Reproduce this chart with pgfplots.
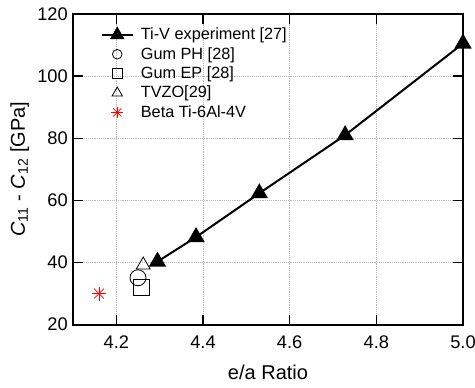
\documentclass[border=0pt]{standalone}
\usepackage{fontspec}
\setmainfont{Liberation Sans}
\usepackage{pgfplots}
\pgfplotsset{compat=1.18}
\pgfplotsset{
  legline/.style={legend image code/.code={\path (0cm,0cm) (0.82cm,0cm); \draw[mark repeat=2,mark phase=2,##1] plot coordinates {(0cm,0cm) (0.41cm,0cm) (0.82cm,0cm)};}},
  legmark/.style={legend image code/.code={\path (0cm,0cm) (0.82cm,0cm); \draw[##1] plot coordinates {(0.41cm,0cm)};}},
  legstar/.style={legend image code/.code={\path (0cm,0cm) (0.82cm,0cm); \draw[##1, mark=+] plot coordinates {(0.41cm,0cm)}; \draw[##1, mark=x] plot coordinates {(0.41cm,0cm)};}},
}
\begin{document}
\begin{tikzpicture}
\useasboundingbox (-54.75pt,-47.25pt) rectangle (301.5pt,243.5pt);
\begin{axis}[
  at={(0,0)}, anchor=south west,
  scale only axis,
  width=292.5pt, height=233pt,
  xmin=4.1, xmax=5.0, ymin=20, ymax=120,
  xtick={4.2,4.4,4.6,4.8,5.0},
  ytick={20,40,60,80,100,120},
  xticklabels={4.2,4.4,4.6,4.8,5.0},
  /pgf/number format/assume math mode=true,
  tick label style={font=\fontsize{13.7}{16}\selectfont},
  xticklabel style={anchor=base, inner sep=0pt, yshift=-18.2pt},
  yticklabel style={anchor=east, inner sep=0pt, xshift=-3.75pt},
  label style={font=\fontsize{15}{17}\selectfont},
  xlabel={e/a Ratio},
  xlabel style={at={(axis description cs:0.5,-0.177)}, anchor=base, inner sep=0pt},
  ylabel={\textit{C}\textsubscript{11} - \textit{C}\textsubscript{12} [GPa]},
  ylabel style={at={(axis description cs:-0.1615,0.5)}, anchor=north, inner sep=0pt, rotate=0},
  tick align=inside,
  major tick length=7.5pt,
  axis line style={line width=1.3pt},
  tick style={line width=1pt, black},
  grid=major,
  grid style={densely dotted, gray!55, line width=0.4pt},
  legend style={draw=none, fill=none, at={(axis description cs:0.071,0.955)}, anchor=north west,
    inner sep=0pt, outer sep=0pt, nodes={inner sep=0pt},
    font=\fontsize{12.2}{14}\selectfont, row sep=4.2pt, column sep=5.3pt},
  legend cell align=left,
]
\addplot[black, line width=1.5pt, mark=triangle*, mark size=6pt, forget plot] coordinates {
  (4.295,40.3) (4.384,48.2) (4.53,62.3) (4.728,81) (5.0,110.5)};
\addplot[only marks, mark=o, mark size=6pt, black, line width=0.6pt, forget plot] coordinates {(4.25,35.1)};
\addplot[only marks, mark=square, mark size=6pt, black, line width=0.6pt, forget plot] coordinates {(4.258,31.9)};
\addplot[only marks, mark=triangle, mark size=6pt, black, line width=0.6pt, forget plot] coordinates {(4.262,39.2)};
\addplot[only marks, mark=+, mark size=5.25pt, red, line width=0.6pt, forget plot] coordinates {(4.16,30)};
\addplot[only marks, mark=x, mark size=5.25pt, red, line width=0.6pt, forget plot] coordinates {(4.16,30)};
\addlegendimage{black, line width=1.5pt, mark=triangle*, mark size=4.8pt, legline}
\addlegendentry{Ti-V experiment [27]}
\addlegendimage{only marks, mark=o, mark size=3.6pt, black, line width=0.6pt, legmark}
\addlegendentry{Gum PH [28]}
\addlegendimage{only marks, mark=square, mark size=3.6pt, black, line width=0.6pt, legmark}
\addlegendentry{Gum EP [28]}
\addlegendimage{only marks, mark=triangle, mark size=4.5pt, black, line width=0.6pt, legmark}
\addlegendentry{TVZO[29]}
\addlegendimage{only marks, mark size=4.4pt, red, line width=0.6pt, legstar}
\addlegendentry{Beta Ti-6Al-4V}
\end{axis}
\end{tikzpicture}
\end{document}
